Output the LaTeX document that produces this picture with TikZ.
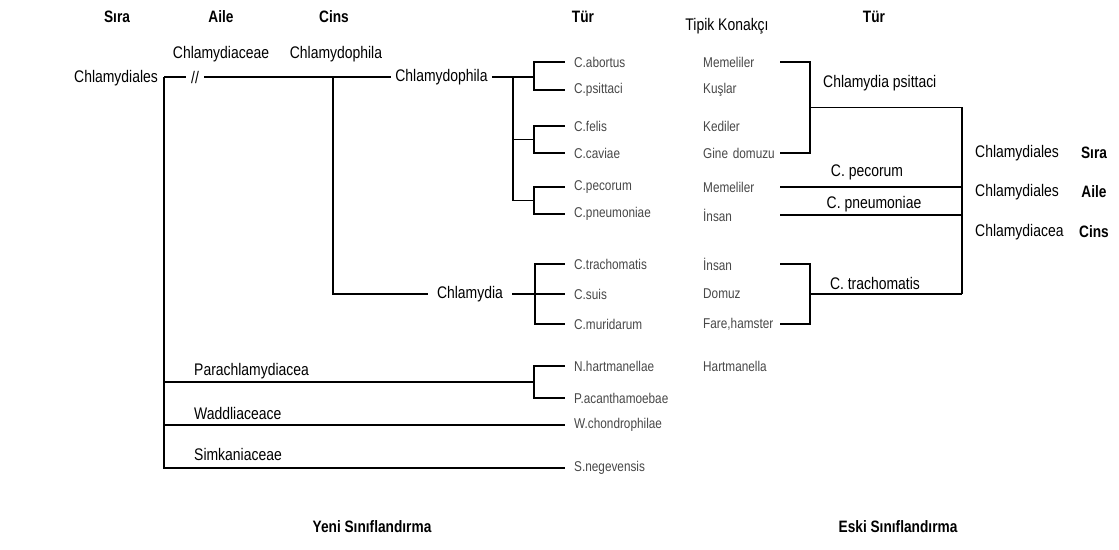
\documentclass[tikz,border=0pt]{standalone}
\usepackage{fontspec}
\setmainfont{Liberation Sans}[FakeStretch=0.83]
\begin{document}
\begin{tikzpicture}[x=1pt,y=-1pt,
    baslik/.style={font=\fontsize{16.5}{18}\selectfont\bfseries, inner sep=0pt},
    ad/.style={font=\fontsize{16.8}{19}\selectfont, inner sep=0pt},
    tur/.style={font=\fontsize{14.2}{16}\selectfont, text=black!72, anchor=west, inner xsep=9pt, inner ysep=0pt},
    konak/.style={font=\fontsize{14.2}{16}\selectfont, text=black!72, anchor=west, inner sep=0pt, text width=77pt},
    dal/.style={line width=1.7pt}]
      \useasboundingbox (0,0) rectangle (1119,549);
      % basliklar
      \draw[baslik]
        (117,17) node (sira){S\i ra}
        (221,17) node (aile){Aile}
        (334,17) node (cins){Cins}
        (583,17) node (tur){Tür}
        (874,17) node (tur2){Tür}
        (372,527) node (yeni){Yeni S\i n\i fland\i rma}
        (898,527) node (eski){Eski S\i n\i fland\i rma};
      \draw (727,26) node[ad] (konakci){Tipik Konakç\i};
      % yeni siniflandirma
      \draw[ad]
        (74,78) node[anchor=west] (takim){Chlamydiales}
        (221,54) node (familya){Chlamydiaceae}
        (336,54) node (cinsad){Chlamydophila}
        (195,77) node[inner xsep=5pt] (kesik){//}
        (441.5,77) node[inner xsep=4pt] (chp){Chlamydophila}
        (470,294) node[inner xsep=9pt] (ch){Chlamydia}
        (194,371) node[anchor=west] (para){Parachlamydiacea}
        (194,413) node[anchor=west] (wadd){Waddliaceace}
        (194,454) node[anchor=west] (simk){Simkaniaceae};
      \draw[tur]
        (565,62) node (abortus){C.abortus}
        (565,90) node (psittaci){C.psittaci}
        (565,126) node (felis){C.felis}
        (565,153) node (caviae){C.caviae}
        (565,187) node (pecorum){C.pecorum}
        (565,214) node (pneumoniae){C.pneumoniae}
        (565,264) node (trachomatis){C.trachomatis}
        (565,294) node (suis){C.suis}
        (565,324) node (muridarum){C.muridarum}
        (565,366) node (hartman){N.hartmanellae}
        (565,398) node (acanth){P.acanthamoebae}
        (565,425) node (chondro){W.chondrophilae}
        (565,468) node (negev){S.negevensis};
      \draw[konak]
        (703,62) node (h1){Memeliler}
        (703,90) node (h2){Ku\c slar}
        (703,126) node (h3){Kediler}
        (703,153) node (h4){Gine domuzu}
        (703,187) node (h5){Memeliler}
        (703,215) node (h6){\.Insan}
        (703,264) node (h7){\.Insan}
        (703,294) node (h8){Domuz}
        (703,324) node (h9){Fare,hamster}
        (703,366) node (h10){Hartmanella};
      % eski siniflandirma
      \draw[ad]
        (823,83) node[anchor=west] (epsit){Chlamydia psittaci}
        (867,172) node (epec){C. pecorum}
        (874,204) node (epneu){C. pneumoniae}
        (875,283) node (etrach){C. trachomatis}
        (975,153) node[anchor=west] (e1){Chlamydiales}
        (975,192) node[anchor=west] (e2){Chlamydiales}
        (975,232) node[anchor=west] (e3){Chlamydiacea};
      \draw[baslik]
        (1094,153) node (esira){S\i ra}
        (1094,192) node (eaile){Aile}
        (1094,232) node (ecins){Cins};
      \coordinate (kok) at (164,77);
      \coordinate (catal) at (333,77);
      \coordinate (c1) at (513,77);
      \coordinate (k1) at (534,77);
      \coordinate (k2) at (534,139.5);
      \coordinate (k3) at (534,200.5);
      \coordinate (k4) at (535,294);
      \coordinate (k5) at (534,382);
      \coordinate (s1) at (810,107.5);
      \coordinate (s2) at (810,294);
      \coordinate (s3) at (962,294);
      \begin{scope}[dal]
        \draw (kok) -- (kesik);
        \draw (kesik) -- (chp);
        \draw (kok) |- (negev);
        \draw (catal) |- (ch);
        \draw (chp) -- (k1);
        \draw (c1) |- (k3);
        \draw (c1) |- (k2);
        \draw (k1) |- (abortus);
        \draw (k1) |- (psittaci);
        \draw (k2) |- (felis);
        \draw (k2) |- (caviae);
        \draw (k3) |- (pecorum);
        \draw (k3) |- (pneumoniae);
        \draw (ch) -- (suis);
        \draw (k4) |- (trachomatis);
        \draw (k4) |- (muridarum);
        \draw (kok |- k5) -- (k5);
        \draw (k5) |- (hartman);
        \draw (k5) |- (acanth);
        \draw (kok |- chondro) -- (chondro);
        \draw (h1.east) -| (s1);
        \draw (h4.east) -| (s1);
        \draw (s1) -| (s3);
        \draw (h5.east) -- (h5.east -| s3);
        \draw (h6.east) -- (h6.east -| s3);
        \draw (h7.east) -| (s2);
        \draw (h9.east) -| (s2);
        \draw (s2) -- (s3);
      \end{scope}
    \end{tikzpicture}
\end{document}
